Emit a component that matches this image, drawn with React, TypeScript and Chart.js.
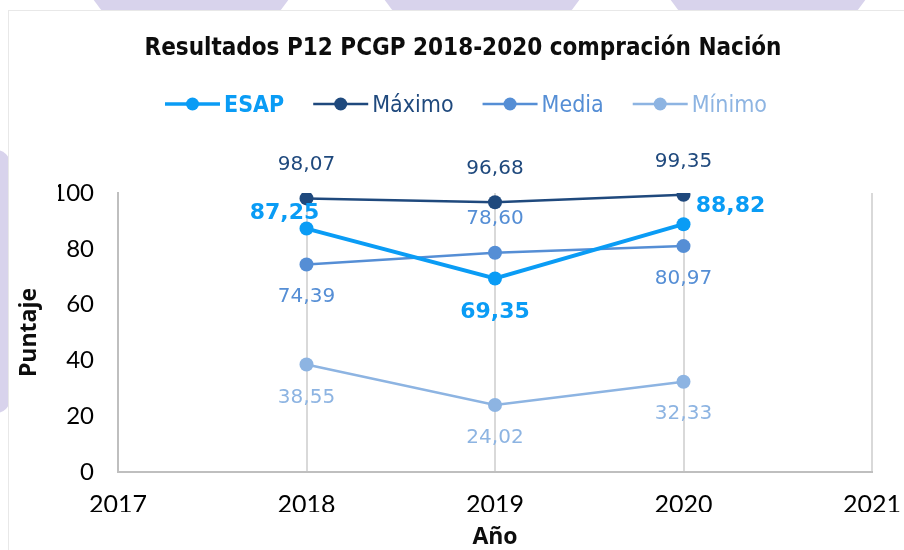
import React, { useEffect, useRef } from "react";
import { Chart, registerables } from "chart.js";

Chart.register(...registerables);

// ---- data ----
const years = [2018, 2019, 2020];
const esap = [87.25, 69.35, 88.82];
const maximo = [98.07, 96.68, 99.35];
const media = [74.39, 78.6, 80.97];
const minimo = [38.55, 24.02, 32.33];
const seriesNames = ["ESAP", "Máximo", "Media", "Mínimo"];
const xRange = [2017, 2021];
const yRange = [0, 100];
const yStep = 20;
const titleText = "Resultados P12 PCGP 2018-2020 compración Nación";
const yTitle = "Puntaje";
const xTitle = "Año";

// ---- styles ----
const seriesValues = [esap, maximo, media, minimo];
const colors = ["#0a9cf5", "#1f497d", "#558ed5", "#8db4e2"];
const lineWidths = [4, 2.5, 2.5, 2.5];
// label offsets (dx, dy) relative to each point
const labelOffsets = [
  [[-22, -15], [0, 34], [47, -18]],
  [[0, -34], [0, -33], [0, -33]],
  [[0, 32], [0, -34], [0, 33]],
  [[0, 33], [0, 33], [0, 32]],
];

const fontsToLoad = [
  "24px Lato",
  "25px Lato",
  "bold 23px 'Open Sans'",
  "20px 'DejaVu Sans'",
  "bold 22px 'DejaVu Sans'",
  "23px 'DejaVu Sans Condensed'",
  "bold 24px 'DejaVu Sans Condensed'",
];

const fmt = (v: number) => v.toFixed(2).replace(".", ",");

const customPlugin = {
  id: "customDraw",
  afterDatasetsDraw(chart: any) {
    const ctx = chart.ctx;
    chart.data.datasets.forEach((_ds: any, di: number) => {
      const meta = chart.getDatasetMeta(di);
      meta.data.forEach((pt: any, i: number) => {
        const [dx, dy] = labelOffsets[di][i];
        ctx.save();
        ctx.font = di === 0 ? "bold 22px 'DejaVu Sans'" : "20px 'DejaVu Sans'";
        ctx.fillStyle = colors[di];
        ctx.textAlign = "center";
        ctx.textBaseline = "middle";
        ctx.fillText(fmt(seriesValues[di][i]), pt.x + dx, pt.y + dy);
        ctx.restore();
      });
    });
  },
  afterDraw(chart: any) {
    const ctx = chart.ctx;
    const area = chart.chartArea;
    ctx.save();
    // title
    ctx.font = "bold 24px 'DejaVu Sans Condensed'";
    ctx.fillStyle = "#0d0d0d";
    ctx.textAlign = "center";
    ctx.textBaseline = "alphabetic";
    ctx.fillText(titleText, 463, 55);

    // legend
    const lineLen = 55;
    const gapText = 4;
    const gapItem = 29;
    const fonts = seriesNames.map((_n, i) =>
      i === 0 ? "bold 23px 'DejaVu Sans Condensed'" : "23px 'DejaVu Sans Condensed'"
    );
    const widths = seriesNames.map((n, i) => {
      ctx.font = fonts[i];
      return ctx.measureText(n).width;
    });
    let total = 0;
    widths.forEach((w, i) => {
      total += lineLen + gapText + w + (i < widths.length - 1 ? gapItem : 0);
    });
    let x = 466 - total / 2;
    const ly = 104;
    seriesNames.forEach((n, i) => {
      ctx.strokeStyle = colors[i];
      ctx.lineWidth = i === 0 ? 3.5 : 2.5;
      ctx.beginPath();
      ctx.moveTo(x, ly);
      ctx.lineTo(x + lineLen, ly);
      ctx.stroke();
      ctx.fillStyle = colors[i];
      ctx.beginPath();
      ctx.arc(x + lineLen / 2, ly, 6.5, 0, Math.PI * 2);
      ctx.fill();
      ctx.font = fonts[i];
      ctx.textAlign = "left";
      ctx.fillText(n, x + lineLen + gapText, 112);
      x += lineLen + gapText + widths[i] + gapItem;
    });

    // axis titles
    ctx.fillStyle = "#0d0d0d";
    ctx.font = "bold 23px 'Open Sans'";
    ctx.textAlign = "center";
    ctx.fillText(xTitle, (area.left + area.right) / 2, 544);
    ctx.translate(36, (area.top + area.bottom) / 2);
    ctx.rotate(-Math.PI / 2);
    ctx.fillText(yTitle, 0, 0);
    ctx.restore();
  },
};

function ChartCanvas() {
  const ref = useRef<HTMLCanvasElement | null>(null);
  useEffect(() => {
    let chart: Chart | null = null;
    let cancelled = false;
    const build = () => {
      if (cancelled || !ref.current) return;
      chart = new Chart(ref.current, {
        type: "line",
        data: {
          datasets: seriesNames.map((name, di) => ({
            label: name,
            data: years.map((yr, i) => ({ x: yr, y: seriesValues[di][i] })),
            borderColor: colors[di],
            backgroundColor: colors[di],
            borderWidth: lineWidths[di],
            pointRadius: 7,
            pointBorderWidth: 0,
            pointHoverRadius: 7,
            tension: 0,
            fill: false,
          })),
        },
        options: {
          responsive: false,
          animation: false,
          devicePixelRatio: 1,
          layout: { padding: { left: 58, top: 193, right: 32, bottom: 38 } },
          plugins: {
            legend: { display: false },
            title: { display: false },
            tooltip: { enabled: false },
          },
          events: [],
          scales: {
            x: {
              type: "linear",
              min: xRange[0],
              max: xRange[1],
              afterFit: (s: any) => {
                s.height = 40;
                s.paddingLeft = 0;
                s.paddingRight = 0;
              },
              ticks: {
                stepSize: 1,
                padding: 18,
                color: "#000",
                font: { family: "Lato", size: 25 },
                callback: (v: any) => String(v),
              },
              grid: { color: "#d9d9d9", lineWidth: 2, drawTicks: false },
              border: { color: "#bfbfbf", width: 2 },
            },
            y: {
              min: yRange[0],
              max: yRange[1],
              afterFit: (s: any) => {
                s.width = 60;
                s.paddingTop = 0;
                s.paddingBottom = 0;
              },
              ticks: {
                stepSize: yStep,
                padding: 24,
                color: "#000",
                font: { family: "Lato", size: 24 },
              },
              grid: { display: false, drawTicks: false },
              border: { display: true, color: "#bfbfbf", width: 2 },
            },
          },
        },
        plugins: [customPlugin],
      });
    };
    const fontSet: any = (document as any).fonts;
    if (fontSet && fontSet.load) {
      Promise.all(fontsToLoad.map((f) => fontSet.load(f).catch(() => null)))
        .then(() => build())
        .catch(() => build());
    } else {
      build();
    }
    return () => {
      cancelled = true;
      if (chart) chart.destroy();
    };
  }, []);
  return (
    <canvas
      ref={ref}
      width={904}
      height={550}
      style={{ position: "absolute", left: 0, top: 0, width: 904, height: 550 }}
    />
  );
}

export default function App() {
  const lav = "#d8d3ec";
  const circleCenters = [191, 482, 768];
  return (
    <div
      style={{
        position: "fixed",
        left: 0,
        top: 0,
        width: 904,
        height: 550,
        overflow: "hidden",
        background: "#fff",
      }}
    >
      {circleCenters.map((cx) => (
        <div
          key={cx}
          style={{
            position: "absolute",
            left: cx - 117,
            top: -182,
            width: 234,
            height: 234,
            borderRadius: "50%",
            background: lav,
          }}
        />
      ))}
      <div
        style={{
          position: "absolute",
          left: -20,
          top: 150,
          width: 30,
          height: 263,
          borderRadius: 14,
          background: lav,
        }}
      />
      <div
        style={{
          position: "absolute",
          left: 8,
          top: 10,
          width: 920,
          height: 560,
          background: "#fff",
          border: "1px solid #e8e8e8",
          boxSizing: "border-box",
        }}
      />
      <ChartCanvas />
    </div>
  );
}
